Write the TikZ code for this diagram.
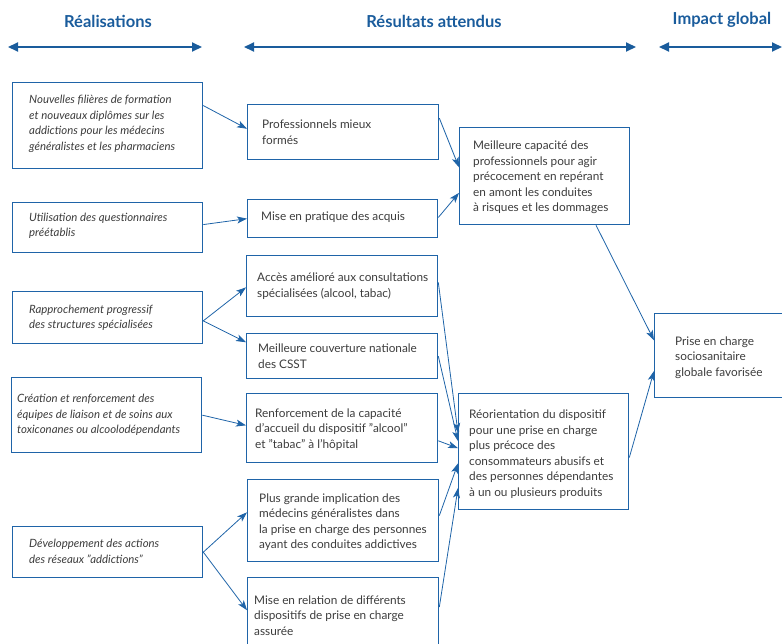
\documentclass[tikz,border=0pt]{standalone}
\usepackage{fontspec}
\setmainfont{Lato}
\usetikzlibrary{arrows.meta,calc}
\definecolor{bblue}{HTML}{1F64A8}
\definecolor{hblue}{HTML}{1A5C9C}
\definecolor{tgrey}{HTML}{3C3C3C}
\begin{document}
\begin{tikzpicture}[x=1pt,y=-1pt,
 box/.style={draw=bblue,line width=1.3pt,rectangle,inner sep=0pt,anchor=north west},
 txt/.style={anchor=west,align=left,inner sep=0pt,text=tgrey,font=\fontsize{11.8}{15.5}\selectfont},
 itxt/.style={txt,font=\fontsize{11.4}{15.5}\selectfont\itshape},
 hdr/.style={text=hblue,font=\fontsize{16.5}{19}\selectfont\bfseries,inner sep=0pt},
 harr/.style={{Triangle[length=10pt,width=9pt]}-{Triangle[length=10pt,width=9pt]},draw=hblue,line width=2pt},
 conn/.style={-{Stealth[length=10pt,width=7pt,inset=2.5pt]},draw=bblue,line width=0.8pt}]
\useasboundingbox (0,0) rectangle (782,643);

% headers
\node[hdr] (h1) at (108,21) {Réalisations};
\node[hdr] (h2) at (434,21) {Résultats attendus};
\node[hdr] (h3) at (722,20) {Impact global};
\coordinate (a1l) at (8,47);   \coordinate (a1r) at (202,47);
\coordinate (a2l) at (244,47); \coordinate (a2r) at (636,47);
\coordinate (a3l) at (659,47); \coordinate (a3r) at (782,47);
\draw[harr] (a1l) -- (a1r);
\draw[harr] (a2l) -- (a2r);
\draw[harr] (a3l) -- (a3r);

% left column
\node[box,minimum width=190pt,minimum height=86pt] (L1) at (12,82) {};
\node[box,minimum width=190pt,minimum height=50pt] (L2) at (12,202) {};
\node[box,minimum width=190pt,minimum height=52pt] (L3) at (12,291) {};
\node[box,minimum width=190pt,minimum height=75pt] (L4) at (11,377) {};
\node[box,minimum width=190pt,minimum height=51pt] (L5) at (12,526) {};
\node[itxt] (L1t) at ($(L1.west)+(17,-2)$) {Nouvelles filières de formation\\et nouveaux diplômes sur les\\addictions pour les médecins\\généralistes et les pharmaciens};
\node[itxt] (L2t) at ($(L2.west)+(17,-2)$) {Utilisation des questionnaires\\préétablis};
\node[itxt] (L3t) at ($(L3.west)+(17,0)$) {Rapprochement progressif\\des structures spécialisées};
\node[itxt] (L4t) at ($(L4.west)+(6,0)$) {Création et renforcement des\\équipes de liaison et de soins aux\\toxiconanes ou alcoolodépendants};
\node[itxt] (L5t) at ($(L5.west)+(17,-1)$) {Développement des actions\\des réseaux "addictions"};

% middle column
\node[box,minimum width=191pt,minimum height=55pt] (M1) at (247,104) {};
\node[box,minimum width=190pt,minimum height=38pt] (M2) at (247,199) {};
\node[box,minimum width=191pt,minimum height=61pt] (M3) at (246,255) {};
\node[box,minimum width=191pt,minimum height=45pt] (M4) at (246,333) {};
\node[box,minimum width=191pt,minimum height=69pt] (M5) at (246,393) {};
\node[box,minimum width=191pt,minimum height=82pt] (M6) at (247,479) {};
\node[box,minimum width=191pt,minimum height=76pt] (M7) at (247,577) {};
\node[txt] (M1t) at ($(M1.west)+(15,0)$) {Professionnels mieux\\formés};
\node[txt] (M2t) at ($(M2.west)+(14,-1)$) {Mise en pratique des acquis};
\node[txt] (M3t) at ($(M3.west)+(11,0)$) {Accès amélioré aux consultations\\spécialisées (alcool, tabac)};
\node[txt] (M4t) at ($(M4.west)+(12,0)$) {Meilleure couverture nationale\\des CSST};
\node[txt] (M5t) at ($(M5.west)+(9,1.5)$) {Renforcement de la capacité\\d'accueil du dispositif "alcool"\\et "tabac" à l'hôpital};
\node[txt] (M6t) at ($(M6.west)+(12,1.5)$) {Plus grande implication des\\médecins généralistes dans\\la prise en charge des personnes\\ayant des conduites addictives};
\node[txt] (M7t) at ($(M7.west)+(7,0)$) {Mise en relation de différents\\dispositifs de prise en charge\\assurée};

% right column
\node[box,minimum width=170pt,minimum height=97pt] (R1) at (459,127) {};
\node[box,minimum width=170pt,minimum height=116pt] (R2) at (458,393) {};
\node[box,minimum width=140pt,minimum height=84pt] (F) at (654,313) {};
\node[txt] (R1t) at ($(R1.west)+(14,1.5)$) {Meilleure capacité des\\professionnels pour agir\\précocement en repérant\\en amont les conduites\\à risques et les dommages};
\node[txt] (R2t) at ($(R2.west)+(11,2.5)$) {Réorientation du dispositif\\pour une prise en charge\\plus précoce des\\consommateurs abusifs et\\des personnes dépendantes\\à un ou plusieurs produits};
\node[txt] (Ft) at ($(F.west)+(21,2)$) {Prise en charge\\sociosanitaire\\globale favorisée};

% connectors left -> middle
\draw[conn] ($(L1.north east)!0.27!(L1.south east)$) -- ($(M1.north west)!0.44!(M1.south west)$);
\draw[conn] ($(L2.north east)!0.44!(L2.south east)$) -- (M2.west);
\draw[conn] ($(L3.north east)!0.56!(L3.south east)$) -- ($(M3.north west)!0.52!(M3.south west)$);
\draw[conn] ($(L3.north east)!0.56!(L3.south east)$) -- ($(M4.north west)!0.2!(M4.south west)$);
\draw[conn] (L4.east) -- ($(M5.north west)!0.46!(M5.south west)$);
\draw[conn] (L5.east) -- ($(M6.north west)!0.4!(M6.south west)$);
\draw[conn] (L5.east) -- ($(M7.north west)!0.43!(M7.south west)$);

% middle -> right
\draw[conn] ($(M1.north east)!0.25!(M1.south east)$) -- ($(R1.north west)!0.41!(R1.south west)$);
\draw[conn] ($(M2.north east)!0.47!(M2.south east)$) -- ($(R1.north west)!0.67!(R1.south west)$);
\draw[conn] ($(M3.north east)!0.44!(M3.south east)$) -- ($(R2.north west)!0.34!(R2.south west)$);
\draw[conn] (M4.east) -- ($(R2.north west)!0.41!(R2.south west)$);
\draw[conn] ($(M5.north east)!0.68!(M5.south east)$) -- ($(R2.north west)!0.47!(R2.south west)$);
\draw[conn] ($(M6.north east)!0.44!(M6.south east)$) -- ($(R2.north west)!0.6!(R2.south west)$);
\draw[conn] ($(M7.north east)!0.39!(M7.south east)$) -- ($(R2.north west)!0.81!(R2.south west)$);

% right -> impact
\draw[conn] ($(R1.south west)!0.8!(R1.south east)$) -- ($(F.north west)!0.32!(F.south west)$);
\draw[conn] ($(R2.north east)!0.55!(R2.south east)$) -- ($(F.north west)!0.68!(F.south west)$);
\end{tikzpicture}
\end{document}
